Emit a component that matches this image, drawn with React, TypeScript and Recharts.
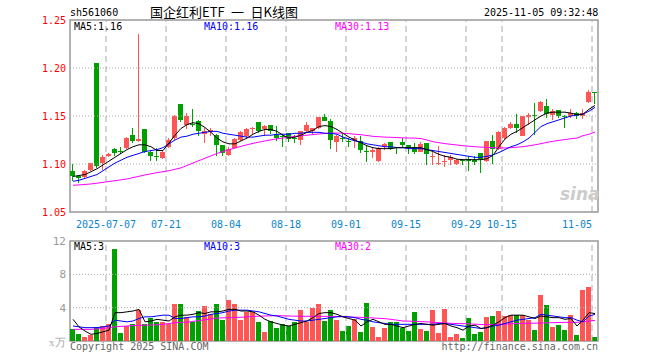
import React from 'react';
import {
  ComposedChart, Bar, Line, XAxis, YAxis, ReferenceLine, ReferenceArea,
} from 'recharts';

const DATES = [
  '2025-06-27', '2025-06-30', '2025-07-01', '2025-07-02', '2025-07-03', '2025-07-04',
  '2025-07-07', '2025-07-08', '2025-07-09', '2025-07-10', '2025-07-11',
  '2025-07-14', '2025-07-15', '2025-07-16', '2025-07-17', '2025-07-18',
  '2025-07-21', '2025-07-22', '2025-07-23', '2025-07-24', '2025-07-25',
  '2025-07-28', '2025-07-29', '2025-07-30', '2025-07-31', '2025-08-01',
  '2025-08-04', '2025-08-05', '2025-08-06', '2025-08-07', '2025-08-08',
  '2025-08-11', '2025-08-12', '2025-08-13', '2025-08-14', '2025-08-15',
  '2025-08-18', '2025-08-19', '2025-08-20', '2025-08-21', '2025-08-22',
  '2025-08-25', '2025-08-26', '2025-08-27', '2025-08-28', '2025-08-29',
  '2025-09-01', '2025-09-02', '2025-09-03', '2025-09-04', '2025-09-05',
  '2025-09-08', '2025-09-09', '2025-09-10', '2025-09-11', '2025-09-12',
  '2025-09-15', '2025-09-16', '2025-09-17', '2025-09-18', '2025-09-19',
  '2025-09-22', '2025-09-23', '2025-09-24', '2025-09-25', '2025-09-26',
  '2025-09-29', '2025-09-30', '2025-10-09', '2025-10-10', '2025-10-13', '2025-10-14',
  '2025-10-15', '2025-10-16', '2025-10-17',
  '2025-10-20', '2025-10-21', '2025-10-22', '2025-10-23', '2025-10-24',
  '2025-10-27', '2025-10-28', '2025-10-29', '2025-10-30', '2025-10-31',
  '2025-11-03', '2025-11-04', '2025-11-05',
];

const LABEL_DATES = [
  '2025-07-07', '2025-07-21', '2025-08-04', '2025-08-18', '2025-09-01',
  '2025-09-15', '2025-09-29', '2025-10-15', '2025-11-05',
];

const OPEN = [
  1.093, 1.087, 1.086, 1.094, 1.205, 1.101, 1.108, 1.116, 1.114, 1.117,
  1.130, 1.124, 1.136, 1.113, 1.108, 1.106, 1.118, 1.127, 1.162, 1.141,
  1.142, 1.145, 1.131, 1.133, 1.130, 1.120, 1.109, 1.117, 1.125, 1.129,
  1.136, 1.144, 1.136, 1.141, 1.131, 1.129, 1.132, 1.127, 1.125, 1.134,
  1.134, 1.137, 1.149, 1.145, 1.123, 1.127, 1.1235, 1.125, 1.124, 1.114,
  1.112, 1.103, 1.118, 1.123, 1.118, 1.1225, 1.120, 1.118, 1.113, 1.122,
  1.1075, 1.100, 1.102, 1.104, 1.100, 1.1045, 1.105, 1.104, 1.111, 1.1035,
  1.124, 1.116, 1.127, 1.1375, 1.1415, 1.129, 1.149, 1.151, 1.155, 1.1605,
  1.1515, 1.1565, 1.150, 1.1505, 1.153, 1.1505, 1.165, 1.1755,
];
const HIGH = [
  1.100, 1.089, 1.094, 1.101, 1.205, 1.109, 1.111, 1.117, 1.118, 1.128,
  1.137, 1.235, 1.136, 1.115, 1.117, 1.115, 1.127, 1.151, 1.162, 1.153,
  1.157, 1.146, 1.137, 1.138, 1.131, 1.120, 1.118, 1.127, 1.134, 1.137,
  1.139, 1.144, 1.141, 1.141, 1.140, 1.131, 1.132, 1.130, 1.134, 1.144,
  1.138, 1.149, 1.152, 1.147, 1.130, 1.131, 1.127, 1.129, 1.129, 1.120,
  1.117, 1.118, 1.122, 1.123, 1.118, 1.127, 1.120, 1.122, 1.123, 1.122,
  1.113, 1.119, 1.109, 1.109, 1.105, 1.105, 1.108, 1.108, 1.111, 1.124,
  1.130, 1.134, 1.139, 1.144, 1.152, 1.150, 1.153, 1.1635, 1.166, 1.1675,
  1.157, 1.1565, 1.151, 1.157, 1.154, 1.1575, 1.1775, 1.1755,
];
const LOW = [
  1.082, 1.080, 1.085, 1.093, 1.096, 1.094, 1.107, 1.108, 1.110, 1.116,
  1.122, 1.123, 1.111, 1.103, 1.103, 1.105, 1.117, 1.125, 1.144, 1.136,
  1.139, 1.129, 1.122, 1.129, 1.108, 1.108, 1.108, 1.116, 1.124, 1.126,
  1.131, 1.132, 1.129, 1.131, 1.124, 1.118, 1.123, 1.122, 1.120, 1.133,
  1.130, 1.136, 1.145, 1.116, 1.113, 1.123, 1.118, 1.117, 1.111, 1.102,
  1.106, 1.102, 1.115, 1.115, 1.110, 1.118, 1.110, 1.110, 1.113, 1.099,
  1.099, 1.099, 1.097, 1.099, 1.099, 1.099, 1.093, 1.099, 1.091, 1.102,
  1.100, 1.115, 1.126, 1.136, 1.132, 1.129, 1.141, 1.1305, 1.154, 1.148,
  1.1455, 1.148, 1.1375, 1.148, 1.147, 1.147, 1.1635, 1.162,
];
const CLOSE = [
  1.087, 1.085, 1.093, 1.101, 1.098, 1.107, 1.110, 1.111, 1.113, 1.127,
  1.124, 1.126, 1.113, 1.108, 1.107, 1.113, 1.125, 1.150, 1.146, 1.150,
  1.141, 1.134, 1.134, 1.135, 1.120, 1.111, 1.116, 1.126, 1.133, 1.136,
  1.138, 1.134, 1.140, 1.134, 1.127, 1.128, 1.126, 1.126, 1.134, 1.141,
  1.137, 1.149, 1.145, 1.125, 1.129, 1.126, 1.123, 1.127, 1.115, 1.112,
  1.115, 1.117, 1.121, 1.116, 1.117, 1.1195, 1.117, 1.1125, 1.121, 1.110,
  1.108, 1.101, 1.103, 1.107, 1.104, 1.1035, 1.103, 1.102, 1.1055, 1.124,
  1.116, 1.133, 1.138, 1.1415, 1.1375, 1.150, 1.151, 1.1505, 1.165, 1.152,
  1.1555, 1.1505, 1.149, 1.153, 1.1505, 1.153, 1.175, 1.1745,
];

const MA5 = [
  1.087, 1.088, 1.089, 1.092, 1.095, 1.099, 1.103, 1.107, 1.111, 1.115,
  1.118, 1.120, 1.120, 1.118, 1.114, 1.114, 1.122, 1.130, 1.137, 1.141,
  1.143, 1.142, 1.138, 1.133, 1.127, 1.123, 1.121, 1.121, 1.124, 1.127,
  1.131, 1.134, 1.136, 1.136, 1.134, 1.130, 1.127, 1.128, 1.130, 1.133,
  1.135, 1.139, 1.140, 1.139, 1.136, 1.132, 1.128, 1.125, 1.122, 1.119,
  1.117, 1.116, 1.116, 1.116, 1.117, 1.117, 1.117, 1.117, 1.117, 1.115,
  1.113, 1.110, 1.108, 1.107, 1.105, 1.1045, 1.1045, 1.1045, 1.1045, 1.1055,
  1.109, 1.118, 1.126, 1.131, 1.134, 1.138, 1.142, 1.146, 1.150, 1.153,
  1.154, 1.154, 1.154, 1.153, 1.1515, 1.152, 1.157, 1.161,
];
const MA10 = [
  1.082, 1.083, 1.085, 1.087, 1.089, 1.093, 1.097, 1.101, 1.104, 1.107,
  1.109, 1.111, 1.113, 1.114, 1.115, 1.117, 1.121, 1.125, 1.128, 1.129,
  1.131, 1.132, 1.133, 1.134, 1.134, 1.132, 1.131, 1.130, 1.129, 1.128,
  1.128, 1.129, 1.130, 1.130, 1.131, 1.131, 1.131, 1.132, 1.132, 1.133,
  1.133, 1.133, 1.132, 1.132, 1.131, 1.128, 1.126, 1.124, 1.123, 1.121,
  1.120, 1.119, 1.118, 1.118, 1.117, 1.117, 1.116, 1.116, 1.116, 1.115,
  1.114, 1.113, 1.112, 1.111, 1.110, 1.109, 1.108, 1.107, 1.107, 1.108,
  1.1095, 1.112, 1.115, 1.118, 1.120, 1.123, 1.127, 1.133, 1.139, 1.142,
  1.144, 1.146, 1.148, 1.150, 1.151, 1.152, 1.155, 1.159,
];
const MA30 = [
  1.0778, 1.0782, 1.0787, 1.0792, 1.0800, 1.0809, 1.0818, 1.0826, 1.0835, 1.0844,
  1.0858, 1.0872, 1.0886, 1.0898, 1.0910, 1.0920, 1.0930, 1.0945, 1.0960, 1.0985,
  1.1010, 1.1035, 1.1060, 1.1085, 1.1110, 1.1130, 1.1150, 1.1167, 1.1184, 1.1200,
  1.1215, 1.1228, 1.1240, 1.1252, 1.1262, 1.1270, 1.1280, 1.1288, 1.1295, 1.1300,
  1.1307, 1.1313, 1.1318, 1.1322, 1.1323, 1.1320, 1.1316, 1.1310, 1.1305, 1.1297,
  1.1288, 1.1284, 1.1280, 1.1278, 1.1275, 1.1272, 1.1270, 1.1270, 1.1265, 1.1250,
  1.1232, 1.1222, 1.1212, 1.1205, 1.1198, 1.1190, 1.1185, 1.1180, 1.1176, 1.1173,
  1.1170, 1.1167, 1.1167, 1.1170, 1.1175, 1.1180, 1.1190, 1.1200, 1.1212, 1.1225,
  1.1237, 1.1246, 1.1255, 1.1263, 1.1270, 1.1295, 1.1310, 1.1333,
];

// volume in 万 (10k) shares
const VOLUME = [
  1.48, 0.8, 0.48, 0.72, 1.68, 1.84, 2.08, 11.0, 0.92, 1.84,
  2.0, 3.68, 2.08, 2.8, 2.24, 2.24, 2.0, 4.4, 4.4, 2.88,
  2.32, 3.6, 4.16, 3.28, 4.48, 2.48, 4.88, 4.4, 2.48, 3.48,
  3.48, 2.24, 1.04, 2.4, 1.52, 2.0, 1.76, 2.24, 3.68, 2.24,
  3.92, 4.48, 2.4, 3.68, 2.48, 1.16, 1.76, 2.64, 1.04, 4.52,
  1.64, 0.48, 1.52, 2.32, 2.32, 1.6, 1.16, 3.44, 1.4, 1.16,
  3.68, 0.92, 3.8, 0.44, 0.8, 0.32, 2.72, 0.8, 1.04, 2.84,
  2.96, 3.56, 2.96, 3.08, 3.08, 3.08, 2.48, 1.28, 5.48, 4.28,
  1.64, 1.88, 1.28, 3.08, 0.68, 6.08, 6.44, 0.44,
];
const VMA5 = [
  2.6, 1.7, 1.2, 0.8, 0.9, 1.1, 1.3, 3.4, 3.4, 3.5,
  3.6, 3.8, 2.3, 2.4, 2.6, 2.5, 2.4, 2.9, 3.1, 3.1,
  3.2, 3.4, 3.3, 3.5, 3.5, 3.6, 3.8, 3.8, 3.6, 3.6,
  3.5, 3.1, 2.6, 2.3, 2.1, 1.9, 1.8, 2.0, 2.2, 2.4,
  2.8, 3.3, 3.4, 3.4, 3.2, 2.9, 2.7, 2.5, 1.8, 2.3,
  2.6, 2.3, 2.0, 2.0, 1.8, 1.6, 1.8, 2.0, 2.1, 2.0,
  1.9, 2.0, 2.1, 1.8, 1.6, 1.3, 1.8, 1.9, 1.5, 1.6,
  1.9, 2.3, 2.8, 3.1, 3.1, 3.1, 2.9, 2.7, 3.0, 2.9,
  2.8, 2.8, 2.6, 2.7, 1.8, 2.5, 3.4, 3.3,
];
const VMA10 = [
  1.8, 1.7, 1.6, 1.6, 1.6, 1.7, 1.8, 2.5, 2.4, 2.3,
  2.4, 2.7, 2.9, 2.9, 3.0, 3.1, 3.1, 2.7, 2.7, 2.8,
  2.9, 2.9, 3.0, 3.2, 3.3, 3.4, 3.6, 3.7, 3.7, 3.7,
  3.6, 3.5, 3.3, 3.1, 3.0, 2.8, 2.6, 2.5, 2.4, 2.4,
  2.5, 2.6, 2.7, 2.8, 2.9, 2.95, 2.9, 2.8, 2.6, 2.5,
  2.3, 2.2, 2.1, 2.0, 2.0, 2.0, 2.0, 2.0, 2.0, 2.0,
  2.0, 2.1, 2.1, 2.0, 1.9, 1.8, 1.7, 1.6, 1.5, 1.6,
  1.8, 1.9, 2.1, 2.3, 2.5, 2.6, 2.7, 2.8, 3.2, 3.1,
  3.0, 2.9, 2.8, 2.8, 2.5, 2.3, 3.0, 3.2,
];
const VMA30 = [
  1.4, 1.4, 1.4, 1.4, 1.45, 1.5, 1.6, 1.7, 1.75, 1.8,
  1.85, 1.88, 1.9, 1.92, 1.95, 2.0, 2.1, 2.2, 2.24, 2.25,
  2.35, 2.45, 2.55, 2.65, 2.75, 2.78, 2.8, 2.82, 2.85, 2.9,
  2.95, 2.97, 3.0, 3.02, 3.04, 3.02, 3.0, 2.98, 2.97, 2.96,
  2.96, 2.96, 2.96, 2.96, 2.94, 2.9, 2.88, 2.86, 2.84, 2.8,
  2.76, 2.72, 2.68, 2.6, 2.5, 2.4, 2.38, 2.35, 2.32, 2.3,
  2.25, 2.2, 2.16, 2.12, 2.1, 2.08, 2.06, 2.02, 1.98, 1.96,
  1.98, 2.0, 2.02, 2.06, 2.1, 2.12, 2.13, 2.14, 2.16, 2.18,
  2.2, 2.22, 2.24, 2.24, 2.24, 2.3, 2.4, 2.48,
];

const PRICE_TICKS = [1.05, 1.10, 1.15, 1.20, 1.25];
const VOL_TICKS = [4, 8, 12];

const RED = '#ff5555';
const GREEN = '#00a000';
const MONO = '"DejaVu Sans Mono", "Liberation Mono", monospace';
const GRID = '#aaaaaa';
const BORDER = '#999999';

const rows = DATES.map((d, i) => ({
  idx: i,
  date: d,
  open: OPEN[i],
  high: HIGH[i],
  low: LOW[i],
  close: CLOSE[i],
  range: [LOW[i], HIGH[i]],
  vol: VOLUME[i],
  ma5: MA5[i],
  ma10: MA10[i],
  ma30: MA30[i],
  vma5: VMA5[i],
  vma10: VMA10[i],
  vma30: VMA30[i],
}));

const X_DOMAIN = [-0.5, DATES.length - 0.5];
const X_TICKS = LABEL_DATES.map((d) => DATES.indexOf(d) - 0.5);
const LAST = DATES.length - 1;

// eslint-disable-next-line @typescript-eslint/no-explicit-any
const Candle = (props: any) => {
  const { x, y, width, height, payload } = props;
  const up = payload.close >= payload.open;
  const color = up ? RED : GREEN;
  const k = height / (payload.high - payload.low);
  const top = y + (payload.high - Math.max(payload.open, payload.close)) * k;
  const bodyH = Math.max(1, Math.abs(payload.open - payload.close) * k);
  const rx = Math.round(x);
  const cx = rx + Math.floor(width / 2) + 0.5;
  return (
    <g shapeRendering="crispEdges">
      <line x1={cx} x2={cx} y1={y} y2={y + height} stroke={color} strokeWidth={1} />
      <rect x={rx} y={top} width={width} height={bodyH} fill={color} />
    </g>
  );
};

// eslint-disable-next-line @typescript-eslint/no-explicit-any
const VolBar = (props: any) => {
  const { x, y, width, height, payload } = props;
  const color = payload.close >= payload.open ? RED : GREEN;
  return (
    <rect
      x={Math.round(x)}
      y={y}
      width={width}
      height={height}
      fill={color}
      shapeRendering="crispEdges"
    />
  );
};

// eslint-disable-next-line @typescript-eslint/no-explicit-any
const DateTick = (props: any) => {
  const { x, y, payload, index } = props;
  const i = Math.round(payload.value + 0.5);
  const d = DATES[i];
  return (
    <text
      x={x}
      y={y + 14}
      textAnchor={i === LAST ? 'end' : 'middle'}
      fill="#0a84cc"
      fontSize={10}
      fontFamily={MONO}
    >
      {index === 0 ? d : d.slice(5)}
    </text>
  );
};

const txt = (
  left: number, top: number, color: string, text: string, extra: React.CSSProperties = {},
) => (
  <div
    style={{
      position: 'absolute',
      left,
      top,
      color,
      fontFamily: MONO,
      fontSize: 10,
      lineHeight: '12px',
      whiteSpace: 'nowrap',
      ...extra,
    }}
  >
    {text}
  </div>
);

function App() {
  return (
    <div
      style={{
        position: 'absolute', left: 0, top: 0, width: 660, height: 360, background: '#fff', overflow: 'hidden',
      }}
    >
      {txt(70, 7, '#000', 'sh561060')}
      <div
        style={{
          position: 'absolute',
          left: 150,
          top: 5,
          fontFamily: '"Noto Sans CJK SC", sans-serif',
          fontSize: 13,
          lineHeight: '14px',
          color: '#000',
          whiteSpace: 'pre',
        }}
      >
        {'国企红利ETF\u2002一\u2002日K线图'}
      </div>
      {txt(484, 7, '#000', '2025-11-05 09:32:48')}

      <div style={{ position: 'absolute', left: 0, top: 0 }}>
        <ComposedChart
          width={660}
          height={240}
          data={rows}
          margin={{ top: 20, right: 62, bottom: 8, left: 0 }}
        >
          <XAxis
            type="number"
            dataKey="idx"
            domain={X_DOMAIN}
            ticks={X_TICKS}
            interval={0}
            tick={<DateTick />}
            tickLine={false}
            axisLine={false}
            tickSize={0}
            height={20}
            allowDataOverflow
          />
          <YAxis
            type="number"
            domain={[1.05, 1.25]}
            ticks={PRICE_TICKS}
            interval={0}
            tickFormatter={(v: number) => v.toFixed(2)}
            tick={{ fill: '#ff0000', fontSize: 10, fontFamily: MONO }}
            tickLine={false}
            axisLine={false}
            tickSize={0}
            tickMargin={4}
            width={70}
            allowDataOverflow
          />
          {PRICE_TICKS.slice(1, -1).map((t) => (
            <ReferenceLine key={`h${t}`} y={t} stroke={GRID} strokeDasharray="1 2" />
          ))}
          {X_TICKS.map((t) => (
            <ReferenceLine key={`v${t}`} x={t} stroke={GRID} strokeDasharray="6 4" />
          ))}
          <Bar dataKey="range" shape={<Candle />} barSize={5} isAnimationActive={false} />
          <Line dataKey="ma30" stroke="#ff00ff" dot={false} strokeWidth={1} isAnimationActive={false} />
          <Line dataKey="ma10" stroke="#0000ff" dot={false} strokeWidth={1} isAnimationActive={false} />
          <Line dataKey="ma5" stroke="#000000" dot={false} strokeWidth={1} isAnimationActive={false} />
          <ReferenceArea
            x1={X_DOMAIN[0]}
            x2={X_DOMAIN[1]}
            y1={1.05}
            y2={1.25}
            fill="none"
            fillOpacity={0}
            stroke={BORDER}
            strokeWidth={1.5}
          />
        </ComposedChart>
      </div>

      {txt(74, 21, '#000', 'MA5:1.16')}
      {txt(204, 21, '#0000ff', 'MA10:1.16')}
      {txt(335, 21, '#ff00ff', 'MA30:1.13')}
      <div
        style={{
          position: 'absolute',
          left: 560,
          top: 184,
          color: '#cccccc',
          fontFamily: '"DejaVu Sans", sans-serif',
          fontWeight: 'bold',
          fontStyle: 'italic',
          fontSize: 17,
          lineHeight: '20px',
        }}
      >
        sina
      </div>

      <div style={{ position: 'absolute', left: 0, top: 232 }}>
        <ComposedChart
          width={660}
          height={120}
          data={rows}
          margin={{ top: 9, right: 62, bottom: 11, left: 0 }}
        >
          <XAxis type="number" dataKey="idx" domain={X_DOMAIN} ticks={X_TICKS} hide allowDataOverflow />
          <YAxis
            type="number"
            domain={[0, 12]}
            ticks={VOL_TICKS}
            interval={0}
            tick={{ fill: '#999999', fontSize: 11, fontFamily: MONO }}
            tickLine={false}
            axisLine={false}
            tickSize={0}
            tickMargin={4}
            width={70}
            allowDataOverflow
          />
          {VOL_TICKS.slice(0, -1).map((t) => (
            <ReferenceLine key={`vh${t}`} y={t} stroke={GRID} strokeDasharray="1 2" />
          ))}
          {X_TICKS.map((t) => (
            <ReferenceLine key={`vv${t}`} x={t} stroke={GRID} strokeDasharray="6 4" />
          ))}
          <Bar dataKey="vol" shape={<VolBar />} barSize={5} isAnimationActive={false} />
          <Line dataKey="vma30" stroke="#ff00ff" dot={false} strokeWidth={1} isAnimationActive={false} />
          <Line dataKey="vma10" stroke="#0000ff" dot={false} strokeWidth={1} isAnimationActive={false} />
          <Line dataKey="vma5" stroke="#000000" dot={false} strokeWidth={1} isAnimationActive={false} />
          <ReferenceArea
            x1={X_DOMAIN[0]}
            x2={X_DOMAIN[1]}
            y1={0}
            y2={12}
            fill="none"
            fillOpacity={0}
            stroke={BORDER}
            strokeWidth={1.5}
          />
        </ComposedChart>
      </div>

      {txt(74, 241, '#000', 'MA5:3')}
      {txt(204, 241, '#0000ff', 'MA10:3')}
      {txt(335, 241, '#ff00ff', 'MA30:2')}
      {txt(49, 336, '#aaaaaa', 'x万', { fontFamily: 'serif', fontSize: 11 })}
      {txt(70, 341, '#666666', 'Copyright 2025 SINA.COM')}
      <div
        style={{
          position: 'absolute',
          right: 62,
          top: 341,
          color: '#666666',
          fontFamily: MONO,
          fontSize: 10,
          lineHeight: '12px',
          whiteSpace: 'nowrap',
        }}
      >
        http://finance.sina.com.cn
      </div>
    </div>
  );
}

export default App;
